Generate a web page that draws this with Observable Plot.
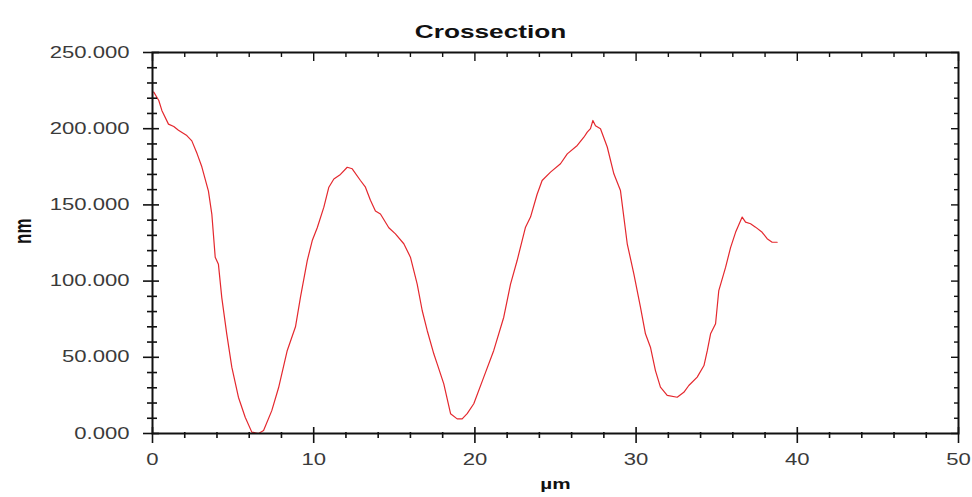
<!DOCTYPE html>
<html><head><meta charset="utf-8">
<script src="https://cdn.jsdelivr.net/npm/d3@7"></script>
<script src="https://cdn.jsdelivr.net/npm/@observablehq/plot@0.6"></script>
<style>html,body{margin:0;padding:0;background:#fff}#chart svg{display:block}</style>
</head><body><div id="chart"></div>
<script>
// Cross-section profile
const positionUm = [0.08,0.39,0.58,0.99,1.32,1.61,2.13,2.44,2.77,3.06,3.47,3.68,3.89,4.09,4.30,4.61,4.92,5.33,5.75,6.16,6.58,6.89,7.40,7.82,8.36,8.87,9.18,9.60,9.91,10.22,10.63,10.94,11.25,11.66,12.08,12.39,12.90,13.21,13.52,13.83,14.14,14.66,15.07,15.59,16.00,16.42,16.73,17.04,17.45,17.66,18.07,18.49,18.90,19.21,19.52,19.93,20.55,21.17,21.79,22.21,22.62,23.14,23.45,23.86,24.17,24.69,25.31,25.73,26.35,26.76,26.97,27.17,27.32,27.48,27.79,28.21,28.62,29.03,29.45,29.86,30.27,30.58,30.89,31.20,31.51,31.93,32.55,32.96,33.27,33.79,34.21,34.42,34.62,34.93,35.13,35.55,35.86,36.17,36.58,36.79,37.10,37.41,37.82,38.13,38.44,38.75];
const heightNm = [224,218.5,212,203,201.4,199,195.5,192,183.5,175,159,144,115.7,111,89,65,43.5,23.8,10.7,0.9,0,2,15,30,54.5,70,89.5,113.5,126.6,135,148.5,161.6,167,170,174.7,173.7,166,161.6,153,146,144,135,131,124.5,115.7,98,80.7,67.6,52.3,45.7,32.6,13,9.6,9.6,13,19.5,37,54.5,76.3,98,113.5,135.4,142,157,166,171.5,177,183.5,189,194.4,197.7,200,205.4,202,200,188,170.4,159.4,124.5,104.8,83,65.4,56.6,41.3,30.4,25,23.8,27,31.5,37,44.6,54.5,65.4,72,93.8,109,122,132,142,138.7,137.6,135.4,132,127.8,125.5,125.5];

const xMajorTicks = [0,10,20,30,40,50];
const xMinorTicks = [2,4,6,8,12,14,16,18,22,24,26,28,32,34,36,38,42,44,46,48];
const yMajorTicks = [0,50,100,150,200,250];
const yMinorTicks = [10,20,30,40,60,70,80,90,110,120,130,140,160,170,180,190,210,220,230,240];

const titleText = "Crossection";
const xLabel = "µm";
const yLabel = "nm";

const data = positionUm.map((x, i) => ({x, y: heightNm[i]}));
const fmt = d3.format(".3f");
const tickStroke = "#111";
const labelColor = "#3a3a3a";

const chart = Plot.plot({
  width: 972,
  height: 497,
  marginLeft: 152,
  marginRight: 14,
  marginTop: 52,
  marginBottom: 64,
  style: {fontFamily: "'Liberation Sans', Arial, sans-serif", background: "#fff", color: "#111"},
  x: {domain: [0, 50]},
  y: {domain: [0, 250]},
  marks: [
    Plot.line(data, {x: "x", y: "y", stroke: "#e4282e", strokeWidth: 1.2}),
    Plot.frame({stroke: tickStroke, strokeWidth: 2}),
    // left axis: ticks crossing the axis line
    Plot.axisY(yMajorTicks, {anchor: "left", tickSize: 16, dx: 7, fill: "none", stroke: tickStroke, strokeWidth: 1.6, label: null}),
    Plot.axisY(yMinorTicks, {anchor: "left", tickSize: 10, dx: 5, fill: "none", stroke: tickStroke, strokeWidth: 1.6, label: null}),
    Plot.axisY(yMajorTicks, {anchor: "left", tickSize: 0, tickPadding: 23, tickFormat: fmt, fill: labelColor, fontSize: 16, label: null}),
    // right axis: inward ticks
    Plot.axisY(yMajorTicks, {anchor: "right", tickSize: 8, dx: -8, fill: "none", stroke: tickStroke, strokeWidth: 1.4, label: null}),
    Plot.axisY(yMinorTicks, {anchor: "right", tickSize: 5, dx: -5, fill: "none", stroke: tickStroke, strokeWidth: 1.4, label: null}),
    // bottom axis
    Plot.axisX(xMajorTicks, {anchor: "bottom", tickSize: 16, dy: -6, fill: "none", stroke: tickStroke, strokeWidth: 1.6, label: null}),
    Plot.axisX(xMinorTicks, {anchor: "bottom", tickSize: 6, dy: -1, fill: "none", stroke: tickStroke, strokeWidth: 1.6, label: null}),
    Plot.axisX(xMajorTicks, {anchor: "bottom", tickSize: 0, tickPadding: 20, tickFormat: d => String(d), fill: labelColor, fontSize: 16, label: null}),
    // top axis: inward ticks
    Plot.axisX(xMajorTicks, {anchor: "top", tickSize: 8, dy: 8, fill: "none", stroke: tickStroke, strokeWidth: 1.4, label: null}),
    Plot.axisX(xMinorTicks, {anchor: "top", tickSize: 4, dy: 4, fill: "none", stroke: tickStroke, strokeWidth: 1.4, label: null}),
    // texts
    Plot.text([titleText], {frameAnchor: "top", dx: -65, dy: -27.6, text: d => d, fontSize: 19, fontWeight: "bold", fill: "#111"}),
    Plot.text([xLabel], {frameAnchor: "bottom", dx: 0, dy: 55, text: d => d, fontSize: 15, fontWeight: "bold", fill: "#111"}),
    Plot.text([yLabel], {frameAnchor: "left", dx: -129, dy: 1, rotate: -90, text: d => d, fontSize: 17, fontWeight: "bold", fill: "#111"})
  ]
});

// The reference is horizontally stretched; stretch glyphs likewise around their anchors
const S = 1.38;
chart.querySelectorAll("text").forEach(t => {
  let tr = t.getAttribute("transform");
  if (tr == null) {
    const x = t.getAttribute("x") || 0, y = t.getAttribute("y") || 0;
    t.removeAttribute("x"); t.removeAttribute("y");
    tr = `translate(${x},${y})`;
  }
  if (tr.includes("rotate")) tr = tr.replace("rotate", `scale(${S},1) rotate`);
  else tr = tr + ` scale(${S},1)`;
  t.setAttribute("transform", tr);
});

document.getElementById("chart").appendChild(chart);
</script>
</body></html>
